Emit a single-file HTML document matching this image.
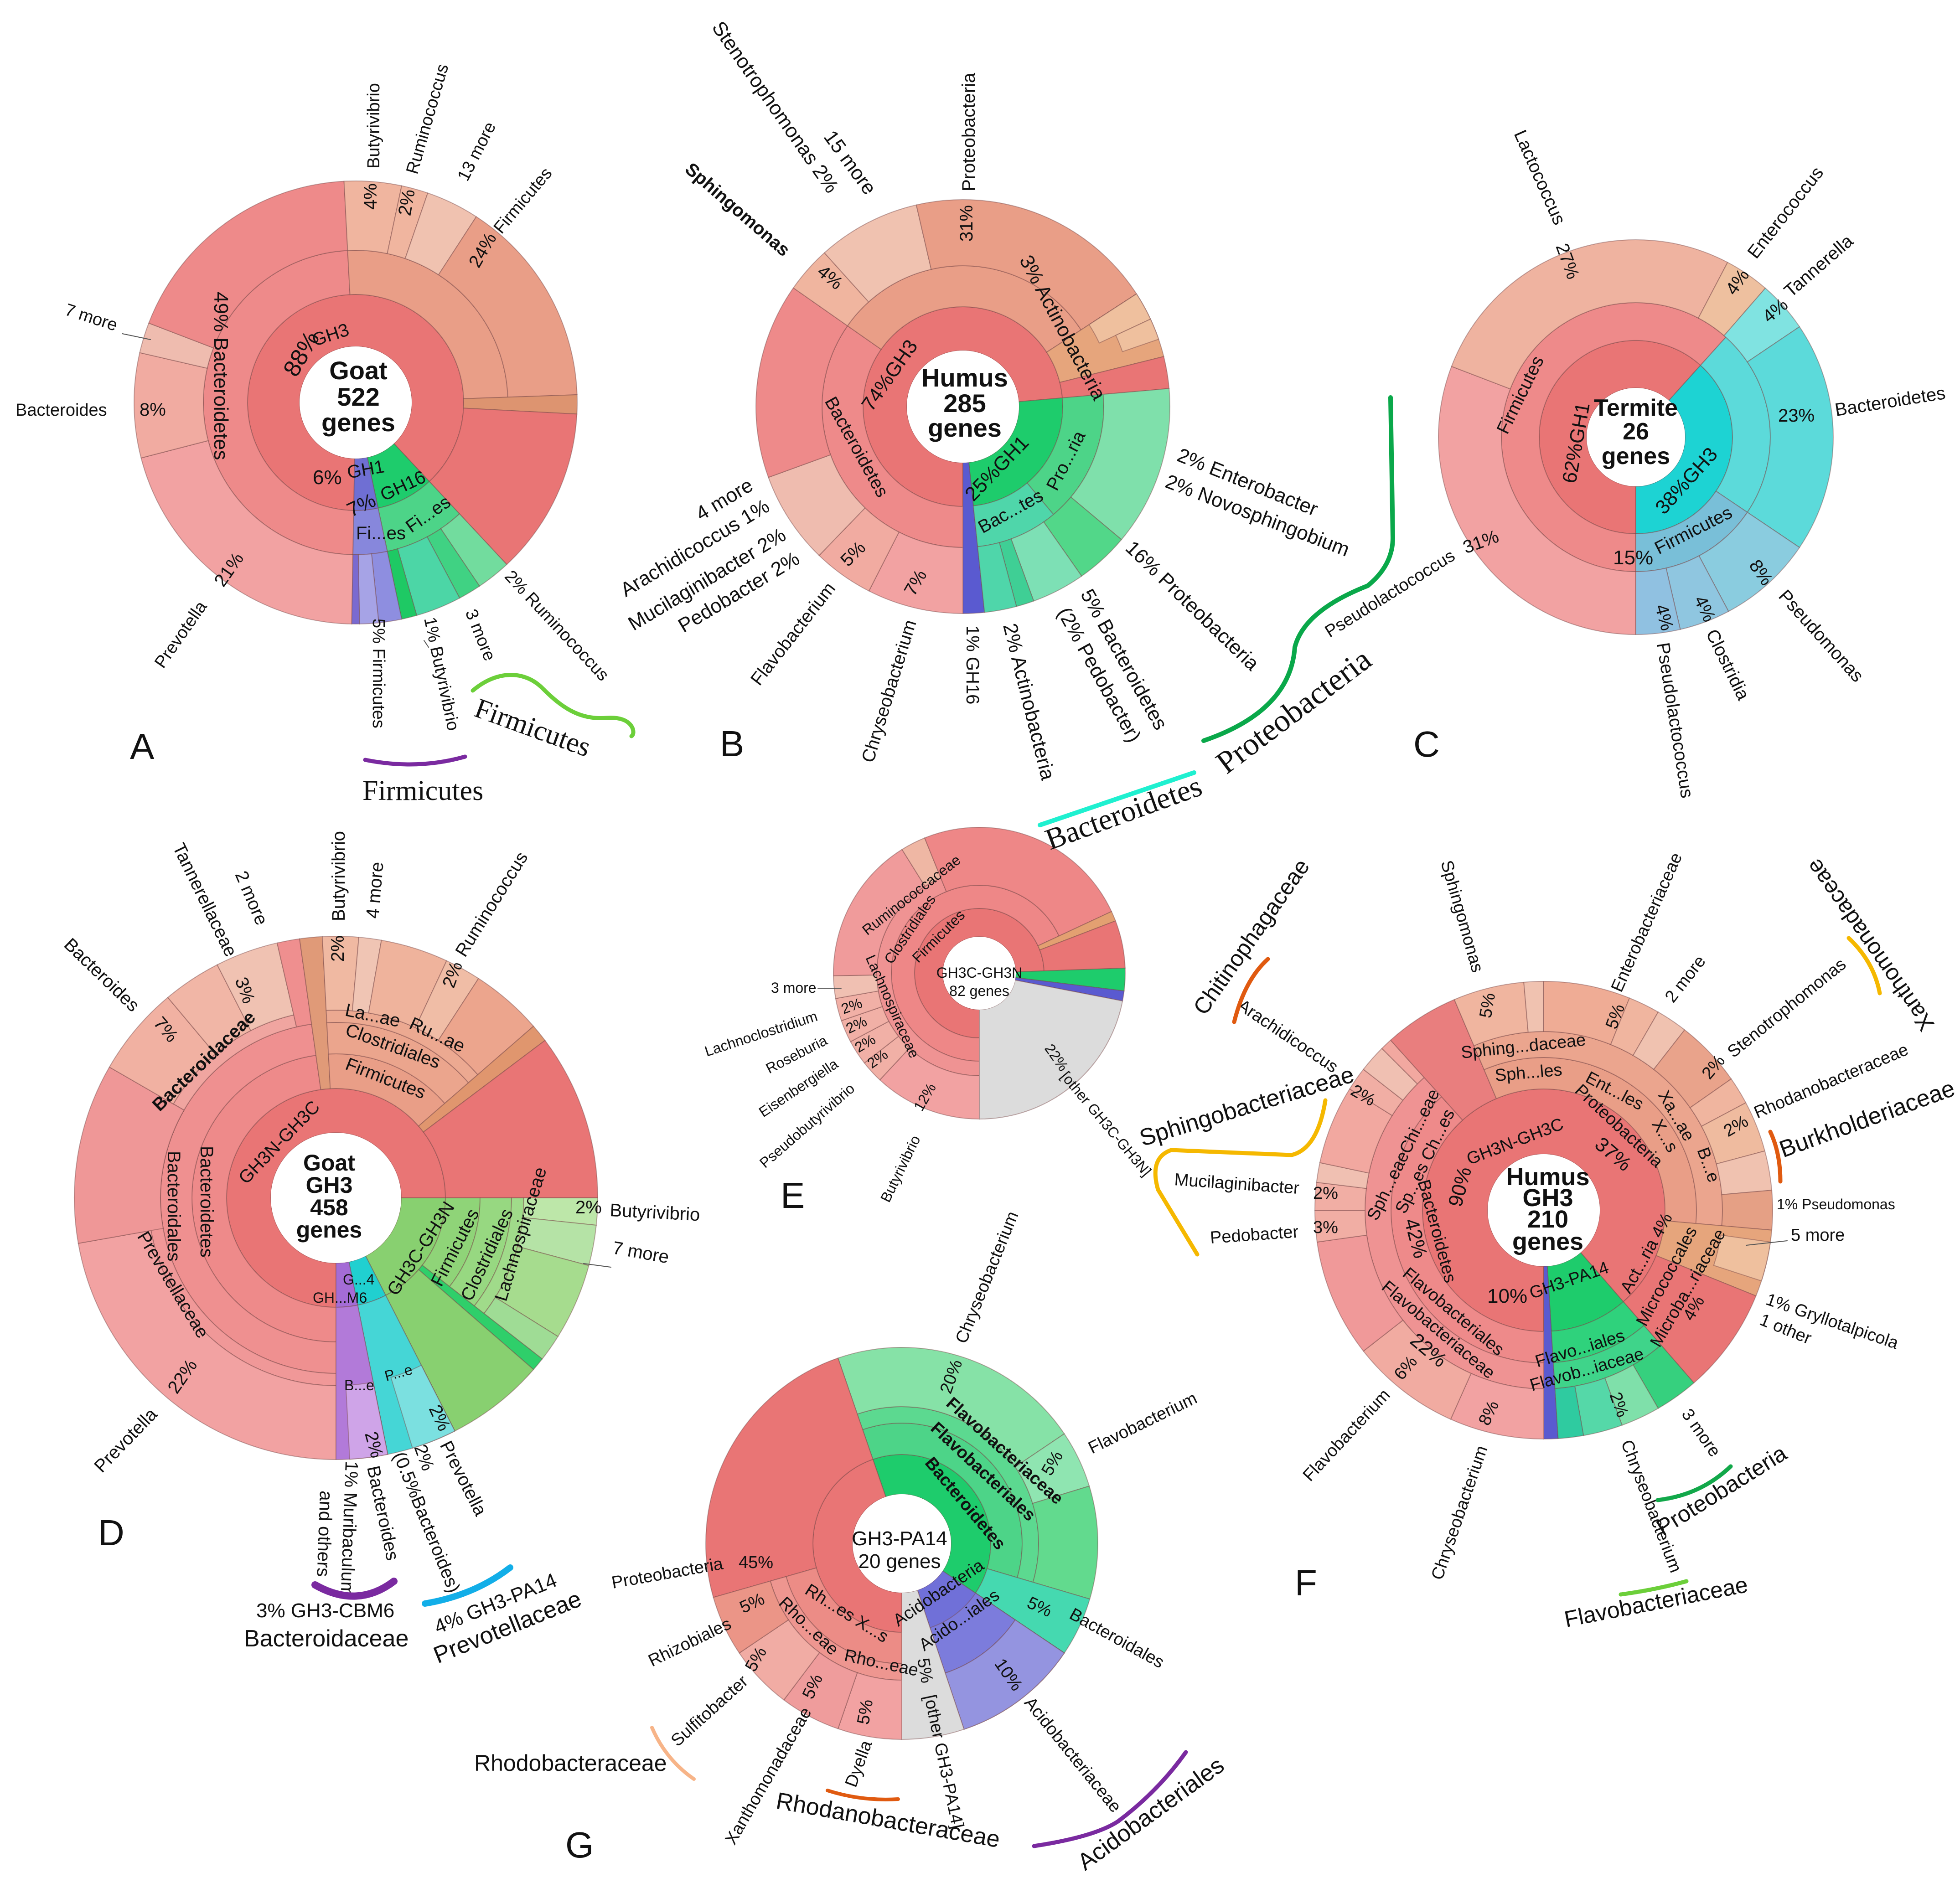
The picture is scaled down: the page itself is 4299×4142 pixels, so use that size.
<!DOCTYPE html>
<html><head><meta charset="utf-8"><style>
html,body{margin:0;padding:0;background:#fff}
svg{display:block}
text{font-family:"Liberation Sans",sans-serif;fill:#111}
.l{font-size:38px}.m{font-size:44px}.p{font-size:40px}.s{font-size:32px}
.b{font-weight:bold}.c{font-size:56px;font-weight:bold;text-anchor:middle}
.sf{font-family:"Liberation Serif",serif;font-size:62px}
.L{font-size:80px}
</style></head><body>
<svg id="S" xmlns="http://www.w3.org/2000/svg" width="4299" height="4142" viewBox="0 0 4299 4142">
<rect width="4299" height="4142" fill="#fff"/>
<g id="W"></g>
<g id="T">
<!-- A -->
<text class="l" transform="translate(832 370) rotate(-90)">Butyrivibrio</text>
<text class="l" transform="translate(915 384) rotate(-74)">Ruminococcus</text>
<text class="l" transform="translate(1025 400) rotate(-63)">13 more</text>
<text class="l" transform="translate(1100 515) rotate(-50)">Firmicutes</text>
<text class="p" transform="translate(826 460) rotate(-90)">4%</text>
<text class="p" transform="translate(900 475) rotate(-80)">2%</text>
<text class="p" transform="translate(1050 590) rotate(-60)">24%</text>
<text class="m" transform="translate(470 640) rotate(90)">49% Bacteroidetes</text>
<text class="m" style="font-size:52px" transform="translate(650 830) rotate(-60)">88%</text>
<text class="p" transform="translate(690 760) rotate(-18)">GH3</text>
<text class="c" x="786" y="832">Goat</text><text class="c" x="786" y="890">522</text><text class="c" x="786" y="946">genes</text>
<text class="l" transform="translate(140 690) rotate(18)">7 more</text>
<text class="l" x="34" y="912">Bacteroides</text><text class="p" x="306" y="912">8%</text>
<text class="l" text-anchor="end" transform="translate(455 1330) rotate(-55)">Prevotella</text>
<text class="p" transform="translate(490 1290) rotate(-55)">21%</text>
<text class="m" x="686" y="1062">6%</text><text class="p" transform="translate(764 1050) rotate(-10)">GH1</text>
<text class="m" transform="translate(770 1135) rotate(-25)">7%</text><text class="p" transform="translate(842 1100) rotate(-25)">GH16</text>
<text class="p" x="781" y="1183">Fi...es</text><text class="p" transform="translate(902 1170) rotate(-35)">Fi...es</text>
<text class="l" transform="translate(818 1357) rotate(90)">5% Firmicutes</text>
<text class="l" transform="translate(930 1357) rotate(78)">1% Butyrivibrio</text>
<text class="l" transform="translate(1020 1343) rotate(68)">3 more</text>
<text class="l" transform="translate(1105 1266) rotate(47)">2% Ruminococcus</text>
<text class="sf" transform="translate(1037 1570) rotate(20)">Firmicutes</text>
<text class="sf" x="795" y="1755">Firmicutes</text>
<text class="L" x="285" y="1665">A</text>
<!-- B -->
<text class="m" transform="translate(1560 60) rotate(55)">Stenotrophomonas 2%</text>
<text class="m" transform="translate(1805 300) rotate(54)">15 more</text>
<text class="p" transform="translate(2138 420) rotate(-90)">Proteobacteria</text>
<text class="p b" transform="translate(1500 375) rotate(41)">Sphingomonas</text>
<text class="p" transform="translate(1790 600) rotate(40)">4%</text>
<text class="p" transform="translate(2133 530) rotate(-90)">31%</text>
<text class="m" transform="translate(2235 570) rotate(62)">3% Actinobacteria</text>
<text class="c" x="2116" y="848">Humus</text><text class="c" x="2116" y="904">285</text><text class="c" x="2116" y="958">genes</text>
<text class="m" transform="translate(1912 905) rotate(-55)">74%GH3</text>
<text class="p" transform="translate(1808 880) rotate(61)">Bacteroidetes</text>
<text class="m" text-anchor="end" transform="translate(1655 1073) rotate(-31)">4 more</text>
<text class="m" text-anchor="end" transform="translate(1691 1119) rotate(-31)">Arachidicoccus 1%</text>
<text class="m" text-anchor="end" transform="translate(1727 1182) rotate(-31)">Mucilaginibacter 2%</text>
<text class="m" text-anchor="end" transform="translate(1757 1234) rotate(-31)">Pedobacter 2%</text>
<text class="p" transform="translate(1860 1245) rotate(-45)">5%</text>
<text class="p" transform="translate(2005 1310) rotate(-60)">7%</text>
<text class="p" text-anchor="end" transform="translate(1834 1291) rotate(-52)">Flavobacterium</text>
<text class="p" text-anchor="end" transform="translate(2010 1365) rotate(-73)">Chryseobacterium</text>
<text class="p" transform="translate(2120 1372) rotate(90)">1% GH16</text>
<text class="m" transform="translate(2200 1372) rotate(76)">2% Actinobacteria</text>
<text class="m" transform="translate(2369 1303) rotate(61)">5% Bacteroidetes</text>
<text class="m" transform="translate(2318 1343) rotate(61)">(2% Pedobacter)</text>
<text class="m" transform="translate(2466 1205) rotate(44)">16% Proteobacteria</text>
<text class="m" transform="translate(2579 1010) rotate(22)">2% Enterobacter</text>
<text class="m" transform="translate(2553 1068) rotate(21)">2% Novosphingobium</text>
<text class="m" transform="translate(2135 1102) rotate(-46)">25%GH1</text>
<text class="p" transform="translate(2318 1079) rotate(-63)">Pro...ria</text>
<text class="p" transform="translate(2155 1171) rotate(-29)">Bac...tes</text>
<text class="L" x="1579" y="1659">B</text>
<text class="sf" style="font-size:70px" transform="translate(2690 1700) rotate(-37)">Proteobacteria</text>
<text class="sf" style="font-size:66px" transform="translate(2303 1865) rotate(-20)">Bacteroidetes</text>
<!-- C -->
<text class="p" transform="translate(3320 293) rotate(66)">Lactococcus</text>
<text class="p" transform="translate(3412 540) rotate(70)">27%</text>
<text class="p" transform="translate(3852 570) rotate(-52)">Enterococcus</text>
<text class="p" transform="translate(3928 654) rotate(-41)">Tannerella</text>
<text class="p" transform="translate(3805 650) rotate(-55)">4%</text>
<text class="p" transform="translate(3880 710) rotate(-40)">4%</text>
<text class="p" transform="translate(4027 913) rotate(-9)">Bacteroidetes</text>
<text class="p" x="3900" y="925">23%</text>
<text class="p" transform="translate(3306 955) rotate(-64)">Firmicutes</text>
<text class="m" transform="translate(3456 1062) rotate(-80)">62%GH1</text>
<text class="c" style="font-size:52px" x="3588" y="912">Termite</text><text class="c" style="font-size:52px" x="3588" y="964">26</text><text class="c" style="font-size:52px" x="3588" y="1018">genes</text>
<text class="m" transform="translate(3650 1131) rotate(-48)">38%GH3</text>
<text class="m" x="3538" y="1238">15%</text>
<text class="p" transform="translate(3638 1217) rotate(-27)">Firmicutes</text>
<text class="p" transform="translate(3215 1215) rotate(-20)">31%</text>
<text class="l" text-anchor="end" transform="translate(3194 1226) rotate(-32)">Pseudolactococcus</text>
<text class="p" transform="translate(3835 1240) rotate(55)">8%</text>
<text class="p" transform="translate(3715 1315) rotate(65)">4%</text>
<text class="p" transform="translate(3630 1330) rotate(75)">4%</text>
<text class="p" transform="translate(3899 1309) rotate(48)">Pseudomonas</text>
<text class="p" transform="translate(3741 1389) rotate(64)">Clostridia</text>
<text class="p" transform="translate(3634 1412) rotate(81)">Pseudolactococcus</text>
<text class="L" x="3100" y="1660">C</text>
<!-- D -->
<text class="p" transform="translate(138 2075) rotate(44)">Bacteroides</text>
<text class="p" transform="translate(378 1858) rotate(64)">Tannerellaceae</text>
<text class="p" transform="translate(515 1918) rotate(67)">2 more</text>
<text class="p" transform="translate(756 2021) rotate(-90)">Butyrivibrio</text>
<text class="p" transform="translate(830 2016) rotate(-85)">4 more</text>
<text class="p" transform="translate(1020 2102) rotate(-58)">Ruminococcus</text>
<text class="p" transform="translate(335 2245) rotate(50)">7%</text>
<text class="p" transform="translate(515 2150) rotate(70)">3%</text>
<text class="p" transform="translate(754 2110) rotate(-90)">2%</text>
<text class="p" transform="translate(995 2170) rotate(-70)">2%</text>
<text class="p b" transform="translate(350 2440) rotate(-44)">Bacteroidaceae</text>
<text class="p" transform="translate(755 2228) rotate(12)">La...ae</text>
<text class="p" transform="translate(895 2255) rotate(25)">Ru...ae</text>
<text class="p" transform="translate(755 2270) rotate(20)">Clostridiales</text>
<text class="p" transform="translate(755 2345) rotate(21)">Firmicutes</text>
<text class="p" transform="translate(540 2600) rotate(-46)">GH3N-GH3C</text>
<text class="p" transform="translate(440 2514) rotate(90)">Bacteroidetes</text>
<text class="p" transform="translate(368 2525) rotate(90)">Bacteroidales</text>
<text class="p" transform="translate(300 2712) rotate(59)">Prevotellaceae</text>
<text class="c" style="font-size:50px" x="722" y="2568">Goat</text><text class="c" style="font-size:50px" x="722" y="2617">GH3</text><text class="c" style="font-size:50px" x="722" y="2666">458</text><text class="c" style="font-size:50px" x="722" y="2715">genes</text>
<text class="p" transform="translate(388 3060) rotate(-55)">22%</text>
<text class="p" text-anchor="end" transform="translate(347 3105) rotate(-46)">Prevotella</text>
<text class="p" transform="translate(870 2845) rotate(-57)">GH3C-GH3N</text>
<text class="p" transform="translate(968 2825) rotate(-63)">Firmicutes</text>
<text class="p" transform="translate(1034 2857) rotate(-65)">Clostridiales</text>
<text class="p" transform="translate(1110 2857) rotate(-73)">Lachnospiraceae</text>
<text class="p" x="1262" y="2662">2%</text>
<text class="p" transform="translate(1337 2668) rotate(3)">Butyrivibrio</text>
<text class="p" transform="translate(1342 2750) rotate(10)">7 more</text>
<text class="s" x="752" y="2818">G...4</text>
<text class="s" x="686" y="2858">GH...M6</text>
<text class="s" x="755" y="3050">B...e</text>
<text class="s" transform="translate(847 3030) rotate(-15)">P...e</text>
<text class="p" transform="translate(940 3090) rotate(65)">2%</text>
<text class="p" transform="translate(800 3145) rotate(75)">2%</text>
<text class="p" transform="translate(758 3205) rotate(92)">1% Muribaculum</text>
<text class="p" transform="translate(702 3270) rotate(92)">and others</text>
<text class="p" transform="translate(805 3219) rotate(78)">Bacteroides</text>
<text class="p" transform="translate(908 3175) rotate(70)">2%</text>
<text class="p" transform="translate(862 3192) rotate(68)">(0.5%Bacteroides)</text>
<text class="p" transform="translate(964 3170) rotate(63)">Prevotella</text>
<text class="L" x="215" y="3390">D</text>
<text class="m" x="562" y="3548">3% GH3-CBM6</text>
<text style="font-size:52px" x="535" y="3612">Bacteroidaceae</text>
<text class="m" transform="translate(960 3585) rotate(-22)">4% GH3-PA14</text>
<text style="font-size:52px" transform="translate(960 3650) rotate(-22)">Prevotellaceae</text>
<!-- E -->
<text class="s" transform="translate(1902 2053) rotate(-38)">Ruminococcaceae</text>
<text class="s" transform="translate(1956 2117) rotate(-56)">Clostridiales</text>
<text class="s" transform="translate(2014 2114) rotate(-45)">Firmicutes</text>
<text class="s" text-anchor="middle" x="2148" y="2145">GH3C-GH3N</text>
<text class="s" text-anchor="middle" x="2148" y="2185">82 genes</text>
<text class="s" transform="translate(1898 2101) rotate(66)">Lachnospiraceae</text>
<text class="s" x="1691" y="2178">3 more</text>
<text class="s" transform="translate(1550 2318) rotate(-18)">Lachnoclostridium</text>
<text class="s" transform="translate(1850 2225) rotate(-20)">2%</text>
<text class="s" transform="translate(1687 2356) rotate(-27)">Roseburia</text>
<text class="s" transform="translate(1862 2268) rotate(-25)">2%</text>
<text class="s" transform="translate(1674 2452) rotate(-34)">Eisenbergiella</text>
<text class="s" transform="translate(1883 2310) rotate(-30)">2%</text>
<text class="s" transform="translate(1678 2564) rotate(-41)">Pseudobutyrivibrio</text>
<text class="s" transform="translate(1912 2345) rotate(-35)">2%</text>
<text class="s" transform="translate(2022 2440) rotate(-60)">12%</text>
<text class="s" transform="translate(1950 2640) rotate(-64)">Butyrivibrio</text>
<text class="s" transform="translate(2290 2300) rotate(55)">22%</text>
<text class="s" transform="translate(2325 2362) rotate(50)">[other GH3C-GH3N]</text>
<text class="L" x="1712" y="2650">E</text>
<!-- F -->
<text style="font-size:50px" transform="translate(2643 2230) rotate(-55)">Chitinophagaceae</text>
<text class="l" transform="translate(2712 2212) rotate(34)">Arachidicoccus</text>
<text class="l" transform="translate(3160 1892) rotate(74)">Sphingomonas</text>
<text class="l" transform="translate(3556 2179) rotate(-66)">Enterobacteriaceae</text>
<text class="l" transform="translate(3670 2202) rotate(-52)">2 more</text>
<text class="l" transform="translate(3802 2322) rotate(-39)">Stenotrophomonas</text>
<text style="font-size:50px" transform="translate(4244 2247) rotate(235)">Xanthomonadaceae</text>
<text class="l" transform="translate(3854 2454) rotate(-23)">Rhodanobacteraceae</text>
<text style="font-size:52px" transform="translate(3911 2540) rotate(-20)">Burkholderiaceae</text>
<text class="s" x="3897" y="2653">1% Pseudomonas</text>
<text class="l" x="3928" y="2722">5 more</text>
<text class="l" transform="translate(3871 2861) rotate(19)">1% Gryllotalpicola</text>
<text class="l" transform="translate(3857 2905) rotate(22)">1 other</text>
<text style="font-size:52px" transform="translate(2506 2515) rotate(-17)">Sphingobacteriaceae</text>
<text class="l" transform="translate(2575 2600) rotate(4)">Mucilaginibacter</text>
<text class="l" transform="translate(2655 2728) rotate(-4)">Pedobacter</text>
<text class="l" x="2880" y="2630">2%</text><text class="l" x="2880" y="2705">3%</text>
<text class="l" transform="translate(2960 2400) rotate(30)">2%</text>
<text class="l" transform="translate(3206 2322) rotate(-6)">Sphing...daceae</text>
<text class="l" transform="translate(3280 2372) rotate(-5)">Sph...les</text>
<text class="l" transform="translate(3270 2235) rotate(-80)">5%</text>
<text class="l" transform="translate(3545 2260) rotate(-70)">5%</text>
<text class="l" transform="translate(3750 2370) rotate(-50)">2%</text>
<text class="l" transform="translate(3790 2495) rotate(-30)">2%</text>
<text class="l" transform="translate(3475 2372) rotate(28)">Ent...les</text>
<text class="l" transform="translate(3452 2395) rotate(43)">Proteobacteria</text>
<text class="m" transform="translate(3495 2515) rotate(40)">37%</text>
<text class="l" transform="translate(3636 2402) rotate(60)">Xa...ae</text>
<text class="l" transform="translate(3622 2465) rotate(60)">X...s</text>
<text class="l" transform="translate(3722 2523) rotate(70)">B...e</text>
<text class="m" transform="translate(3205 2650) rotate(-75)">90%</text>
<text class="l" transform="translate(3223 2556) rotate(-21)">GH3N-GH3C</text>
<text class="c" style="font-size:54px" x="3395" y="2600">Humus</text><text class="c" style="font-size:54px" x="3395" y="2646">GH3</text><text class="c" style="font-size:54px" x="3395" y="2693">210</text><text class="c" style="font-size:54px" x="3395" y="2742">genes</text>
<text class="l" transform="translate(3020 2680) rotate(-64)">Sph...eaeChi...eae</text>
<text class="l" transform="translate(3082 2665) rotate(-64)">Sp...es Ch...es</text>
<text class="l" transform="translate(3110 2592) rotate(75)">Bacteroidetes</text>
<text class="m" transform="translate(3080 2678) rotate(75)">42%</text>
<text class="l" transform="translate(3074 2798) rotate(40)">Flavobacteriales</text>
<text class="l" transform="translate(3028 2827) rotate(40)">Flavobacteriaceae</text>
<text class="m" transform="translate(3090 2945) rotate(40)">22%</text>
<text class="m" x="3262" y="2858">10%</text>
<text class="l" transform="translate(3360 2850) rotate(-19)">GH3-PA14</text>
<text class="l" transform="translate(3575 2840) rotate(-61)">Act...ria 4%</text>
<text class="l" transform="translate(3610 2912) rotate(-62)">Micrococcales</text>
<text class="l" transform="translate(3640 2958) rotate(-60)">Microba...riaceae</text>
<text class="l" transform="translate(3712 2900) rotate(-60)">4%</text>
<text class="l" transform="translate(3372 3000) rotate(-17)">Flavo...iales</text>
<text class="l" transform="translate(3360 3052) rotate(-16)">Flavob...iaceae</text>
<text class="l" transform="translate(3530 3060) rotate(70)">2%</text>
<text class="l" transform="translate(3687 3102) rotate(55)">3 more</text>
<text class="l" transform="translate(3555 3165) rotate(69)">Chryseobacterium</text>
<text class="l" text-anchor="end" transform="translate(3051 3062) rotate(-47)">Flavobacterium</text>
<text class="l" transform="translate(3075 3030) rotate(-50)">6%</text>
<text class="l" transform="translate(3265 3130) rotate(-65)">8%</text>
<text class="l" text-anchor="end" transform="translate(3263 3177) rotate(-71)">Chryseobacterium</text>
<text class="L" x="2840" y="3500">F</text>
<text style="font-size:50px" transform="translate(3647 3370) rotate(-32)">Proteobacteria</text>
<text style="font-size:50px" transform="translate(3435 3570) rotate(-11)">Flavobacteriaceae</text>
<!-- G -->
<text class="l" text-anchor="end" transform="translate(2234 2664) rotate(-68)">Chryseobacterium</text>
<text class="l" transform="translate(2085 3060) rotate(-70)">20%</text>
<text class="l b" transform="translate(2073 3082) rotate(42)">Flavobacteriaceae</text>
<text class="l b" transform="translate(2039 3136) rotate(43)">Flavobacteriales</text>
<text class="l b" transform="translate(2027 3210) rotate(50)">Bacteroidetes</text>
<text class="l" transform="translate(2395 3190) rotate(-26)">Flavobacterium</text>
<text class="l" transform="translate(2305 3240) rotate(-60)">5%</text>
<text class="m" text-anchor="middle" x="1973" y="3390">GH3-PA14</text>
<text class="m" text-anchor="middle" x="1973" y="3440">20 genes</text>
<text class="l" transform="translate(1344 3485) rotate(-10)">Proteobacteria</text>
<text class="l" x="1620" y="3440">45%</text>
<text class="l" transform="translate(1970 3569) rotate(-34)">Acidobacteria</text>
<text class="l" transform="translate(2027 3623) rotate(-35)">Acido...iales</text>
<text class="l" transform="translate(2250 3525) rotate(25)">5%</text>
<text class="l" transform="translate(2343 3549) rotate(29)">Bacteroidales</text>
<text class="l" transform="translate(2180 3650) rotate(55)">10%</text>
<text class="l" transform="translate(2245 3736) rotate(51)">Acidobacteriaceae</text>
<text class="l" transform="translate(1763 3495) rotate(32)">Rh...es X...s</text>
<text class="l" transform="translate(1706 3519) rotate(44)">Rho...eae</text>
<text class="l" transform="translate(1850 3643) rotate(12)">Rho...eae</text>
<text class="l" transform="translate(1630 3540) rotate(-25)">5%</text>
<text class="l" transform="translate(1430 3657) rotate(-26)">Rhizobiales</text>
<text class="l" transform="translate(1655 3670) rotate(-60)">5%</text>
<text class="l" transform="translate(1782 3730) rotate(-65)">5%</text>
<text class="l" transform="translate(1905 3785) rotate(-80)">5%</text>
<text class="l" transform="translate(2012 3640) rotate(80)">5%</text>
<text class="l" text-anchor="end" transform="translate(1643 3692) rotate(-42)">Sulfitobacter</text>
<text class="l" text-anchor="end" transform="translate(1781 3755) rotate(-60)">Xanthomonadaceae</text>
<text class="l" text-anchor="end" transform="translate(1913 3824) rotate(-70)">Dyella</text>
<text class="l" transform="translate(2027 3721) rotate(78)">[other GH3-PA14]</text>
<text style="font-size:50px" x="1040" y="3885">Rhodobacteraceae</text>
<text style="font-size:52px" transform="translate(1700 3967) rotate(10)">Rhodanobacteraceae</text>
<text style="font-size:52px" transform="translate(2380 4105) rotate(-36)">Acidobacteriales</text>
<text class="L" x="1240" y="4075">G</text>
</g>
<g fill="none" stroke-linecap="round">
<path d="M1037 1515 C1090 1470 1150 1470 1190 1510 S1270 1580 1330 1575 S1395 1610 1385 1615" stroke="#6ccf3a" stroke-width="9"/>
<path d="M801 1667 Q915 1690 1020 1660" stroke="#7a2aa0" stroke-width="9"/>
<path d="M3050 872 L3055 1180 Q3055 1240 3000 1285 Q2860 1340 2840 1420 Q2830 1560 2640 1625" stroke="#0aa84a" stroke-width="10"/>
<path d="M2281 1810 L2619 1695" stroke="#1ff0d0" stroke-width="10"/>
<path d="M691 3477 Q784 3530 864 3469" stroke="#7a2aa0" stroke-width="16"/>
<path d="M932 3518 Q1040 3500 1119 3439" stroke="#12aee8" stroke-width="14"/>
<path d="M2707 2242 Q2730 2150 2781 2104" stroke="#e05a10" stroke-width="9"/>
<path d="M2907 2414 Q2890 2520 2833 2534 L2569 2523 Q2520 2540 2540 2610 L2626 2752" stroke="#f5b800" stroke-width="9"/>
<path d="M4055 2058 Q4110 2110 4123 2179" stroke="#f5b800" stroke-width="9"/>
<path d="M3883 2483 Q3905 2530 3905 2592" stroke="#e05a10" stroke-width="9"/>
<path d="M3636 3291 Q3730 3280 3796 3217" stroke="#12a84a" stroke-width="9"/>
<path d="M3555 3498 Q3630 3488 3699 3469" stroke="#6ccf3a" stroke-width="9"/>
<path d="M1430 3790 Q1460 3860 1522 3903" stroke="#f7b488" stroke-width="8"/>
<path d="M1815 3928 Q1890 3952 1970 3947" stroke="#e05a10" stroke-width="8"/>
<path d="M2268 4050 Q2400 4030 2452 3996 Q2540 3930 2601 3844" stroke="#7a2aa0" stroke-width="9"/>
<path d="M268 732 L330 745 M930 1405 L940 1420 M1280 2772 L1340 2780 M1794 2168 L1845 2168 M3830 2732 L3920 2722" stroke="#555" stroke-width="2"/>
</g>
</svg>
<script>
var NS="http://www.w3.org/2000/svg",G=document.getElementById("W");
function P(cx,cy,r,a){a=a*Math.PI/180;return [cx+r*Math.sin(a),cy-r*Math.cos(a)];}
function w(cx,cy,r0,r1,a0,a1,f){
 var L=(a1-a0)>180?1:0,p1=P(cx,cy,r1,a0),p2=P(cx,cy,r1,a1),p3=P(cx,cy,r0,a1),p4=P(cx,cy,r0,a0);
 var d="M"+p1+"A"+r1+","+r1+" 0 "+L+" 1 "+p2+"L"+p3+"A"+r0+","+r0+" 0 "+L+" 0 "+p4+"Z";
 var e=document.createElementNS(NS,"path");e.setAttribute("d",d);e.setAttribute("fill",f);
 e.setAttribute("stroke","rgba(120,70,70,0.45)");e.setAttribute("stroke-width","2");G.appendChild(e);}
function chart(cx,cy,rw,list){list.forEach(function(s){w(cx,cy,s[0],s[1],s[2],s[3],s[4]);});
 var c=document.createElementNS(NS,"circle");c.setAttribute("cx",cx);c.setAttribute("cy",cy);c.setAttribute("r",rw);c.setAttribute("fill","#fff");G.appendChild(c);}
chart(780,883,123,[
[123,237,181,497,'#e97575'],[123,237,137,168,'#1ecc6c'],[123,237,168,181,'#6f6fd3'],
[237,334,181,357,'#ee8a8a'],[334,486,181,255.5,'#f2a2a2'],[334,486,255.5,283,'#f1aba1'],[334,486,283,291,'#efbcaf'],[334,486,291,357,'#ee8a8a'],
[237,334,357,448,'#e99e87'],[334,486,357,372,'#f0b59f'],[334,486,372,379,'#f0b59f'],[334,486,379,393,'#f0c2b0'],[334,486,393,448,'#e99e87'],
[237,486,448,453,'#dd9470'],[237,486,453,497,'#e97575'],
[237,334,137,168,'#4dd488'],[237,334,168,181,'#8787dc'],
[334,486,137,146,'#72dc9e'],[334,486,146,152,'#40d283'],[334,486,152,164,'#4cd6a6'],[334,486,164,168,'#1ec964'],
[334,486,168,174,'#8e8ee0'],[334,486,174,179,'#a6a3e6'],[334,486,179,181,'#7a6ad0']]);
chart(2112,892,123,[
[123,219,180,445,'#e97575'],[123,219,85,174,'#1ecc6c'],[123,454,174,180,'#5a5ad0'],
[219,309,180,305,'#ee8a8a'],[309,454,180,207,'#f2a2a2'],[309,454,207,224,'#f1aba1'],[309,454,224,250,'#efbcaf'],[309,454,250,305,'#ee8a8a'],
[219,309,305,417,'#e99e87'],[309,454,305,318,'#f0b59f'],[309,454,318,347,'#f0c2b0'],[309,454,347,417,'#e99e87'],
[219,454,417,436,'#e6a57c'],[330,454,417,425,'#efc09e'],[370,454,425,431,'#efc09e'],[219,454,436,445,'#e97575'],
[219,309,85,140,'#4dd488'],[219,309,140,174,'#4fd6aa'],[309,454,85,130,'#7fe0ab'],[309,454,130,145,'#52d789'],[309,454,145,160,'#7de0b5'],[309,454,160,165,'#3fcf95'],[309,454,165,174,'#4fd6aa']]);
chart(3588,959,108,[
[108,212,180,402,'#e97575'],[108,212,42,180,'#1dd3d3'],
[212,295,180,402,'#ee8a8a'],[295,433,180,291,'#f2a2a2'],[295,433,291,387.7,'#efb3a0'],[295,433,387.7,401,'#eec09f'],
[212,295,42,124,'#5cdada'],[295,433,41,56,'#80e3e1'],[295,433,56,124,'#5cdada'],
[212,295,124,180,'#79bfd8'],[295,433,124,152,'#8accdf'],[295,433,152,167,'#8fc6e0'],[295,433,167,180,'#90c1e1']]);
chart(737,2628,143,[
[143,240,180,450,'#e97575'],[143,240,90,153,'#88d070'],[143,240,153,168.6,'#20d0d0'],[143,240,168.6,180,'#a46cd6'],
[240,316,180,352,'#ee8a8a'],[316,385,180,352,'#ef9090'],[385,412,180,300,'#f09898'],[385,412,300,347,'#f0a5a0'],
[412,574,180,260,'#f2a2a2'],[385,574,260,300,'#ef9797'],[412,574,300,320,'#f1b1a2'],[412,574,320,333,'#f1b6a6'],[412,574,333,347,'#f0c2b2'],[385,574,347,352,'#ef8f8f'],
[240,574,352,357,'#e09a78'],
[240,316,357,409,'#e99e87'],[316,385,357,409,'#eba58d'],[385,412,357,409,'#eca991'],
[412,574,357,365,'#f0b9a2'],[412,574,365,370,'#f0c5b4'],[412,574,370,385,'#efb39c'],[412,574,385,393,'#f0bda6'],[412,574,393,409,'#eca58d'],
[240,574,409,413,'#e0966e'],[240,574,413,450,'#e97575'],
[240,316,90,128,'#8fd478'],[316,385,90,128,'#97d881'],[385,412,90,128,'#a0db8a'],
[412,574,90,96,'#bde7a9'],[412,574,96,105,'#b5e3a6'],[412,574,105,122,'#a6dc8e'],[412,574,122,128,'#9fdc95'],
[240,574,128,131,'#2fcf6a'],[240,574,131,153,'#88d070'],
[240,574,153,168.6,'#45d6d6'],[412,574,153,163,'#7be0e0'],
[240,574,168.6,180,'#b27ad9'],[412,574,168.6,177,'#cfa4e8']]);
chart(2148,2135,80,[
[80,142,180,448,'#e97575'],[142,193,180,425,'#ee8787'],[193,225,180,338,'#ef9393'],
[225,320,180,223,'#f2a2a2'],[225,320,223,232,'#f1b0a6'],[225,320,232,242,'#f1b0a6'],[225,320,242,251,'#f1b0a6'],[225,320,251,260,'#f1b0a6'],
[225,320,260,269,'#f0c0b2'],[225,320,269,328,'#f09b9b'],[225,320,328,338,'#efb7a4'],[193,320,338,425,'#ee8787'],
[142,320,425,429,'#e3a071'],[142,320,429,448,'#e97575'],
[80,320,88,97,'#1ecc6c'],[80,320,97,101,'#5a5ad0'],[80,320,101,180,'#dcdcdc']]);
chart(3386,2655,123,[
[123,266,180,499,'#e97575'],[123,266,139,176.4,'#1ecc6c'],[123,502,176.4,180,'#5a5ad0'],
[266,335,180,318,'#ee8a8a'],[335,392,180,318,'#ef9393'],
[392,502,180,204,'#f2a2a2'],[392,502,204,232,'#f1aba1'],[392,502,232,262,'#f09999'],[392,502,262,270,'#f1aea4'],[392,502,270,277,'#f1aea4'],[392,502,277,282,'#f0c0b2'],[392,502,282,302,'#f2a8a0'],[392,502,302,308,'#f1aea4'],[392,502,308,315,'#f0c0b2'],[392,502,315,318,'#f2a8a0'],
[266,502,318,337,'#e97e7e'],
[266,335,337,455,'#e99e87'],[335,392,337,455,'#eba58e'],
[392,502,337,355,'#f0b59f'],[392,502,355,360,'#f0c2b0'],[392,502,360,382,'#efac95'],[392,502,382,390,'#f0b59f'],[392,502,390,398,'#f0c2b0'],[392,502,398,415,'#e9a38b'],[392,502,415,422,'#f0b59f'],[392,502,422,435,'#efbb9f'],[392,502,435,445,'#f0c2b0'],[392,502,445,455,'#e5a085'],
[266,502,455,472,'#e6a57c'],[392,502,458,468,'#efc09e'],[266,502,472,499,'#e97575'],
[266,335,139,176.4,'#2fd27c'],[335,392,139,176.4,'#3fd48a'],[392,502,139,150,'#36d07e'],[392,502,150,160,'#7fe0aa'],[392,502,160,170,'#55d8a8'],[392,502,170,176.4,'#2fcba0']]);
chart(1978,3386,108,[
[108,195,341,484,'#1ecc6c'],[195,264,341,466.5,'#4dd488'],[264,300,341,466.5,'#5cd990'],
[300,430,341,416,'#86e2a7'],[300,430,416,433,'#8fe5b1'],[300,430,433,466.5,'#62da8e'],
[195,430,106.5,124,'#45d9b0'],
[108,430,124,161.5,'#7070d8'],[195,300,124,161.5,'#7c7cdc'],[300,430,124,161.5,'#9494e0'],
[108,430,161.5,180,'#dcdcdc'],
[108,195,180,341,'#e97575'],[195,430,254,341,'#e97575'],[195,264,180,254,'#ec8c86'],[264,300,180,254,'#ee9690'],
[300,430,180,199,'#f2a2a2'],[300,430,199,217,'#ef9c9c'],[300,430,217,236,'#f1aca4'],[300,430,236,254,'#eb9587']]);
</script>
</body></html>
